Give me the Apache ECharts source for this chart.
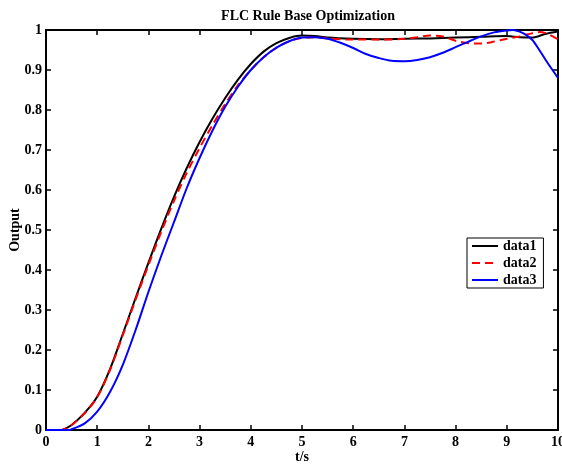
<!DOCTYPE html>
<html>
<head>
<meta charset="utf-8">
<script src="https://cdn.jsdelivr.net/npm/echarts@6/dist/echarts.min.js"></script>
<style>
html,body{margin:0;padding:0;background:#fff;}
#chart{width:562px;height:465px;}
</style>
</head>
<body>
<div id="chart"></div>
<script>
var titleText = 'FLC Rule Base Optimization';
var xName = 't/s';
var yName = 'Output';
var seriesNames = ['data1', 'data2', 'data3'];

var t1 = [0, 0.25, 0.33, 0.5, 0.75, 1.0, 1.25, 1.5, 1.75, 2.0, 2.25, 2.5, 2.75, 3.0, 3.25, 3.5, 3.75, 4.0, 4.25, 4.5, 4.75, 5.0, 5.25, 5.5, 6.0, 6.5, 7.0, 7.5, 8.0, 8.5, 9.0, 9.25, 9.5, 9.75, 10.0];
var data1 = [0, 0, 0.001, 0.0125, 0.042, 0.083, 0.152, 0.24, 0.33, 0.418, 0.503, 0.583, 0.655, 0.72, 0.778, 0.83, 0.876, 0.915, 0.946, 0.967, 0.98, 0.986, 0.985, 0.981, 0.978, 0.977, 0.978, 0.979, 0.981, 0.983, 0.985, 0.982, 0.981, 0.99, 0.996];

var t2 = [0, 0.25, 0.33, 0.5, 0.75, 1.0, 1.25, 1.5, 1.75, 2.0, 2.25, 2.5, 2.75, 3.0, 3.25, 3.5, 3.75, 4.0, 4.25, 4.5, 4.75, 5.0, 5.25, 5.5, 6.0, 6.5, 7.0, 7.25, 7.5, 7.75, 8.0, 8.25, 8.5, 8.75, 9.0, 9.25, 9.5, 9.65, 9.8, 10.0];
var data2 = [0, 0, 0.001, 0.012, 0.041, 0.082, 0.15, 0.237, 0.326, 0.412, 0.495, 0.573, 0.643, 0.705, 0.762, 0.815, 0.862, 0.9, 0.932, 0.955, 0.972, 0.98, 0.982, 0.979, 0.976, 0.976, 0.978, 0.982, 0.986, 0.984, 0.973, 0.967, 0.966, 0.971, 0.978, 0.984, 0.992, 0.995, 0.99, 0.977];

var t3 = [0, 0.25, 0.45, 0.5, 0.75, 1.0, 1.25, 1.5, 1.75, 2.0, 2.25, 2.5, 2.75, 3.0, 3.25, 3.5, 3.75, 4.0, 4.25, 4.5, 4.75, 5.0, 5.25, 5.5, 5.75, 6.0, 6.25, 6.5, 6.75, 7.0, 7.25, 7.5, 7.75, 8.0, 8.25, 8.5, 8.75, 9.0, 9.125, 9.25, 9.375, 9.5, 9.625, 9.75, 9.875, 10.0];
var data3 = [0, 0, 0, 0.002, 0.016, 0.046, 0.095, 0.163, 0.25, 0.345, 0.435, 0.52, 0.605, 0.68, 0.748, 0.808, 0.858, 0.9, 0.932, 0.956, 0.972, 0.981, 0.982, 0.978, 0.968, 0.955, 0.94, 0.93, 0.923, 0.922, 0.925, 0.932, 0.943, 0.957, 0.971, 0.984, 0.994, 0.999, 1.0, 0.996, 0.988, 0.975, 0.952, 0.927, 0.903, 0.88];

var xTicks = [0, 1, 2, 3, 4, 5, 6, 7, 8, 9, 10];
var yTickLabels = ['0', '0.1', '0.2', '0.3', '0.4', '0.5', '0.6', '0.7', '0.8', '0.9', '1'];

function pairs(t, v) { return t.map(function (x, i) { return [x, v[i]]; }); }

var FONT = '"Liberation Serif", "DejaVu Serif", serif';
var FS = 14;
var chart = echarts.init(document.getElementById('chart'), null, {renderer: 'canvas'});

var axisCommon = {
  type: 'value',
  axisLine: {show: true, onZero: false, lineStyle: {color: '#000', width: 2}},
  axisTick: {show: true, inside: true, length: 5, lineStyle: {color: '#000', width: 1.5}},
  splitLine: {show: false}
};

chart.setOption({
  backgroundColor: '#fff',
  animation: false,
  title: {
    text: titleText, left: 303, top: 4, textAlign: 'center',
    textStyle: {fontFamily: FONT, fontWeight: 'bold', fontSize: FS, color: '#000'}
  },
  legend: {
    data: seriesNames,
    orient: 'vertical',
    left: 467, top: 238,
    backgroundColor: '#fff',
    borderColor: '#000', borderWidth: 1,
    padding: [1, 7, 1, 4],
    itemWidth: 26, itemHeight: 14, itemGap: 3,
    itemStyle: {color: 'rgba(0,0,0,0)', borderWidth: 0, opacity: 0},
    textStyle: {fontFamily: FONT, fontWeight: 'bold', fontSize: FS, color: '#000'}
  },
  grid: {left: 46, right: 4, top: 30, bottom: 35, containLabel: false, outerBoundsMode: 'none'},
  xAxis: [
    Object.assign({}, axisCommon, {
      position: 'bottom', min: 0, max: 10, interval: 1,
      name: xName, nameLocation: 'middle', nameGap: 20, nameMoveOverlap: false,
      nameTextStyle: {fontFamily: FONT, fontWeight: 'bold', fontSize: FS, color: '#000'},
      axisLabel: {show: true, margin: 5, color: '#000', fontFamily: FONT, fontWeight: 'bold', fontSize: FS,
        formatter: function (v) { return xTicks.indexOf(v) >= 0 ? String(v) : ''; }}
    }),
    Object.assign({}, axisCommon, {
      position: 'top', min: 0, max: 10, interval: 1, axisLabel: {show: false}
    })
  ],
  yAxis: [
    Object.assign({}, axisCommon, {
      position: 'left', min: 0, max: 1, interval: 0.1,
      name: yName, nameLocation: 'middle', nameGap: 24, nameRotate: 90, nameMoveOverlap: false,
      nameTextStyle: {fontFamily: FONT, fontWeight: 'bold', fontSize: FS, color: '#000'},
      axisLabel: {show: true, margin: 4, color: '#000', fontFamily: FONT, fontWeight: 'bold', fontSize: FS,
        formatter: function (v) { return yTickLabels[Math.round(v * 10)]; }}
    }),
    Object.assign({}, axisCommon, {
      position: 'right', min: 0, max: 1, interval: 0.1, axisLabel: {show: false}
    })
  ],
  series: [
    {name: seriesNames[0], type: 'line', data: pairs(t1, data1), smooth: 0.3, symbol: 'none', clip: true,
      lineStyle: {color: '#000', width: 2}, itemStyle: {color: '#000'}, z: 3},
    {name: seriesNames[1], type: 'line', data: pairs(t2, data2), smooth: 0.3, symbol: 'none', clip: true,
      lineStyle: {color: '#ff0000', width: 2, type: [8, 5]}, itemStyle: {color: '#ff0000'}, z: 4},
    {name: seriesNames[2], type: 'line', data: pairs(t3, data3), smooth: 0.3, symbol: 'none', clip: true,
      lineStyle: {color: '#0000ff', width: 2}, itemStyle: {color: '#0000ff'}, z: 5}
  ]
});
</script>
</body>
</html>
